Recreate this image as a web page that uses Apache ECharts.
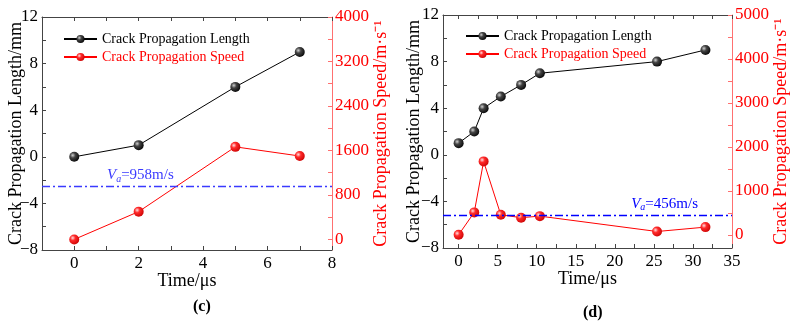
<!DOCTYPE html>
<html lang="en">
<head>
    <meta charset="UTF-8">
    <title>Crack propagation</title>
    <script src="https://cdn.jsdelivr.net/npm/echarts@6/dist/echarts.min.js"></script>
    <style>
        body { margin: 0; background: #fff; }
        #main { width: 792px; height: 321px; }
    </style>
</head>
<body>
    <div id="main"></div>
    <script>
        // (c)
        var timeC = [0, 2, 5, 7]
        var lengthC = [0, 1, 6, 9]
        var speedC = [0, 500, 1665, 1500]
        var vaC = 958
        // (d)
        var timeD = [0, 2, 3.2, 5.4, 8, 10.4, 25.4, 31.6]
        var lengthD = [1, 2, 4, 5, 6, 7, 8, 9]
        var speedD = [0, 510, 1670, 455, 390, 425, 75, 175]
        var vaD = 456

        var xLabelsC = [0, 2, 4, 6, 8]
        var xTicksC = [0, 1, 2, 3, 4, 5, 6, 7, 8]
        var xLabelsD = [0, 5, 10, 15, 20, 25, 30, 35]
        var xTicksD = [0, 2.5, 5, 7.5, 10, 12.5, 15, 17.5, 20, 22.5, 25, 27.5, 30, 32.5, 35]
        var lenLabels = [-8, -4, 0, 4, 8, 12]
        var lenTicks = [-8, -6, -4, -2, 0, 2, 4, 6, 8, 10, 12]
        var spLabelsC = [0, 800, 1600, 2400, 3200, 4000]
        var spTicksC = [0, 400, 800, 1200, 1600, 2000, 2400, 2800, 3200, 3600, 4000]
        var spLabelsD = [0, 1000, 2000, 3000, 4000, 5000]
        var spTicksD = [0, 500, 1000, 1500, 2000, 2500, 3000, 3500, 4000, 4500, 5000]

        var FONT = 'Liberation Serif'
        var nameLen = 'Crack Propagation Length'
        var nameSpd = 'Crack Propagation Speed'

        function pairs(xs, ys) {
            return xs.map(function(x, i) { return [x, ys[i]] })
        }

        var blackBall = new echarts.graphic.RadialGradient(0.35, 0.35, 0.75, [
            { offset: 0, color: '#d0d0d0' }, { offset: 0.35, color: '#444' }, { offset: 1, color: '#000' }
        ])
        var redBall = new echarts.graphic.RadialGradient(0.35, 0.35, 0.75, [
            { offset: 0, color: '#ffe0e0' }, { offset: 0.35, color: '#ff2a2a' }, { offset: 1, color: '#c80000' }
        ])

        function plain(v) { return String(v) }

        function xAxis(grid, min, max, ticks, labels, pos) {
            var bottom = pos === 'bottom'
            return {
                type: 'value', gridIndex: grid, position: pos, min: min, max: max,
                name: bottom ? 'Time/μs' : '', nameLocation: 'middle', nameGap: 22, nameMoveOverlap: false,
                nameTextStyle: { fontFamily: FONT, fontSize: 18, color: '#000' },
                axisLine: { show: true, onZero: false, lineStyle: { color: '#444', width: 1 } },
                axisTick: { show: true, inside: true, length: 4, customValues: ticks, lineStyle: { color: '#444' } },
                axisLabel: { show: bottom, customValues: labels, margin: 5, fontFamily: FONT, fontSize: 17, color: '#000', formatter: plain },
                splitLine: { show: false }
            }
        }

        function lenAxis(grid, gap) {
            return {
                type: 'value', gridIndex: grid, position: 'left', min: -8, max: 12,
                name: 'Crack Propagation Length/mm', nameLocation: 'middle', nameGap: gap, nameRotate: 90,
                nameMoveOverlap: false,
                nameTextStyle: { fontFamily: FONT, fontSize: 18, color: '#000' },
                axisLine: { show: true, onZero: false, lineStyle: { color: '#444' } },
                axisTick: { show: true, inside: true, length: 4, customValues: lenTicks, lineStyle: { color: '#444' } },
                axisLabel: { customValues: lenLabels, margin: 4, fontFamily: FONT, fontSize: 17, color: '#000',
                    formatter: function(v) { return v < 0 ? '\u2212' + (-v) : String(v) } },
                splitLine: { show: false }
            }
        }

        function spdAxis(grid, min, max, ticks, labels) {
            return {
                type: 'value', gridIndex: grid, position: 'right', min: min, max: max,
                name: 'Crack Propagation Speed/m·s\u207B\u00B9', nameLocation: 'middle', nameGap: 40, nameRotate: 90,
                nameMoveOverlap: false,
                nameTextStyle: { fontFamily: FONT, fontSize: 18, color: '#ff0000' },
                axisLine: { show: true, onZero: false, lineStyle: { color: '#ff7070' } },
                axisTick: { show: true, inside: true, length: 4, customValues: ticks, lineStyle: { color: '#ff7070' } },
                axisLabel: { customValues: labels, margin: 3, fontFamily: FONT, fontSize: 17, color: '#ff0000', formatter: plain },
                splitLine: { show: false }
            }
        }

        function vaLine(value, pos, dist, color) {
            var style = { color: color, width: 1.3, type: [8, 3, 2, 3], opacity: 1 }
            return {
                symbol: 'none', silent: true,
                lineStyle: style,
                label: {
                    position: pos, distance: dist,
                    formatter: '{i|V}{s|a}{t|=' + value + 'm/s}',
                    rich: {
                        i: { fontFamily: FONT, fontStyle: 'italic', fontSize: 15, color: color },
                        s: { fontFamily: FONT, fontStyle: 'italic', fontSize: 10, color: color, padding: [8, 0, 0, 0] },
                        t: { fontFamily: FONT, fontSize: 15, color: color }
                    }
                },
                data: [{ yAxis: value }]
            }
        }

        function lenSeries(x, y, grid) {
            return {
                name: nameLen, type: 'line', xAxisIndex: grid * 2, yAxisIndex: grid * 2,
                data: pairs(x, y), symbol: 'circle', symbolSize: 10,
                lineStyle: { color: '#000', width: 1 }, itemStyle: { color: blackBall },
                z: 3
            }
        }

        function spdSeries(x, y, grid, markLine) {
            return {
                name: nameSpd, type: 'line', xAxisIndex: grid * 2, yAxisIndex: grid * 2 + 1,
                data: pairs(x, y), symbol: 'circle', symbolSize: 10,
                lineStyle: { color: '#ff0000', width: 1 }, itemStyle: { color: redBall },
                markLine: markLine,
                z: 3
            }
        }

        function legend(left, top) {
            return {
                left: left, top: top, padding: 0, orient: 'vertical', itemGap: 4, itemWidth: 33, itemHeight: 10,
                textStyle: { fontFamily: FONT, fontSize: 14 },
                data: [
                    { name: nameLen, textStyle: { color: '#000' } },
                    { name: nameSpd, textStyle: { color: '#ff0000' } }
                ]
            }
        }

        var chart = echarts.init(document.getElementById('main'))
        chart.setOption({
            animation: false,
            title: [
                { text: '(c)', left: 188, top: 294, textStyle: { fontFamily: FONT, fontSize: 16, fontWeight: 'bold', color: '#000' } },
                { text: '(d)', left: 578, top: 300, textStyle: { fontFamily: FONT, fontSize: 16, fontWeight: 'bold', color: '#000' } }
            ],
            legend: [legend(63, 32), legend(465, 29)],
            grid: [
                { left: 42, top: 17, width: 290, height: 233 },
                { left: 443, top: 15, width: 289, height: 233 }
            ],
            xAxis: [
                xAxis(0, -1, 8, xTicksC, xLabelsC, 'bottom'),
                xAxis(0, -1, 8, xTicksC, xLabelsC, 'top'),
                xAxis(1, -2, 35, xTicksD, xLabelsD, 'bottom'),
                xAxis(1, -2, 35, xTicksD, xLabelsD, 'top')
            ],
            yAxis: [
                lenAxis(0, 17),
                spdAxis(0, -190, 4000, spTicksC, spLabelsC),
                lenAxis(1, 20),
                spdAxis(1, -300, 5000, spTicksD, spLabelsD)
            ],
            series: [
                lenSeries(timeC, lengthC, 0),
                spdSeries(timeC, speedC, 0, vaLine(vaC, 'insideStartTop', [65, 2], '#3a3aff')),
                lenSeries(timeD, lengthD, 1),
                spdSeries(timeD, speedD, 1, vaLine(vaD, 'insideEndTop', [34, 2], '#0000ff'))
            ]
        })
    </script>
</body>
</html>
